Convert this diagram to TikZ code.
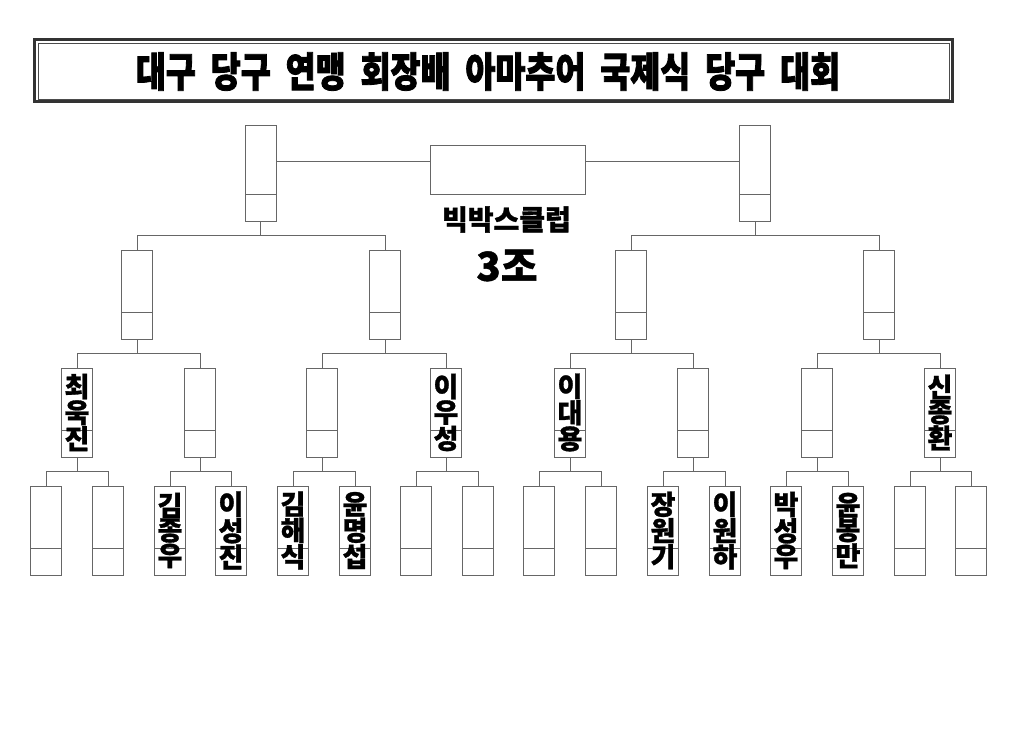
\documentclass[tikz,border=0pt]{standalone}
\usepackage{fontspec}
\usepackage{tikz}
\newfontfamily\krfont{Noto Sans CJK KR}[FakeBold=1.1]
\newfontfamily\titlefont{Noto Sans CJK KR}[FakeStretch=0.795,WordSpace=2.0,FakeBold=2]

\begin{document}
\begin{tikzpicture}[x=1pt,y=-1pt,
  slot/.style={draw=black!60,line width=0.6pt,minimum width=31pt,minimum height=89pt,inner sep=0pt,
    align=center,font=\krfont\bfseries\fontsize{27}{24.5}\selectfont,
    path picture={\draw[black!60,line width=0.6pt]([yshift=27pt]path picture bounding box.south west)--([yshift=27pt]path picture bounding box.south east);}},
  semi/.style={slot,minimum height=96pt},
  link/.style={draw=black!60,line width=0.6pt}]
\useasboundingbox (0,0) rectangle (1024,746);
% title
\draw[black!80][line width=3](34.5,39.5) rectangle (952.5,102);
\draw[black!70][line width=0.8](38,43) rectangle (949,99);
\node (title) at (488,71.5) [inner sep=0][font=\titlefont\bfseries\fontsize{41}{41}\selectfont]{대구 당구 연맹 회장배 아마추어 국제식 당구 대회};
% final
\node (final) at (507.5,169.5) [draw=black!60][line width=0.6pt][minimum width=155pt][minimum height=49pt]{};
\node (club) at (506.5,219.5) [font=\krfont\bfseries\fontsize{28}{28}\selectfont]{빅박스클럽};
\node (group) at (507,265.5) [font=\krfont\bfseries\fontsize{40}{40}\selectfont]{3조};
% semifinal
\node (s1) at (260.5,173) [semi]{};
\node (s2) at (755,173) [semi]{};
% quarterfinal
\node (q1) at (137,294.5) [slot]{};
\node (q2) at (385,294.5) [slot]{};
\node (q3) at (631,294.5) [slot]{};
\node (q4) at (879,294.5) [slot]{};
% round of 8
\node (e1) at (77,412.5) [slot]{최\\욱\\진};
\node (e2) at (200,412.5) [slot]{};
\node (e3) at (322,412.5) [slot]{};
\node (e4) at (446,412.5) [slot]{이\\우\\성};
\node (e5) at (570,412.5) [slot]{이\\대\\용};
\node (e6) at (693,412.5) [slot]{};
\node (e7) at (817,412.5) [slot]{};
\node (e8) at (940,412.5) [slot]{신\\종\\환};
% round of 16
\node (r1) at (46,530.5) [slot]{};
\node (r2) at (108,530.5) [slot]{};
\node (r3) at (170,530.5) [slot]{김\\종\\우};
\node (r4) at (231,530.5) [slot]{이\\성\\진};
\node (r5) at (293,530.5) [slot]{김\\해\\식};
\node (r6) at (355,530.5) [slot]{윤\\명\\섭};
\node (r7) at (416,530.5) [slot]{};
\node (r8) at (478,530.5) [slot]{};
\node (r9) at (539,530.5) [slot]{};
\node (r10) at (601,530.5) [slot]{};
\node (r11) at (663,530.5) [slot]{장\\원\\기};
\node (r12) at (725,530.5) [slot]{이\\원\\하};
\node (r13) at (786,530.5) [slot]{박\\성\\우};
\node (r14) at (848,530.5) [slot]{윤\\봉\\만};
\node (r15) at (910,530.5) [slot]{};
\node (r16) at (971,530.5) [slot]{};
% connectors
\draw [link]([yshift=12pt]s1.east)--([yshift=12pt]s1.east -| final.west);
\draw [link]([yshift=12pt]s2.west)--([yshift=12pt]s2.west -| final.east);
\draw [link](q1.north) |- ([yshift=-13.5pt]s1.south) -| (q2.north);
\draw [link](s1.south)--++(0,13.5);
\draw [link](q3.north) |- ([yshift=-13.5pt]s2.south) -| (q4.north);
\draw [link](s2.south)--++(0,13.5);
\draw [link](e1.north) |- ([yshift=-13.5pt]q1.south) -| (e2.north);
\draw [link](q1.south)--++(0,13.5);
\draw [link](e3.north) |- ([yshift=-13.5pt]q2.south) -| (e4.north);
\draw [link](q2.south)--++(0,13.5);
\draw [link](e5.north) |- ([yshift=-13.5pt]q3.south) -| (e6.north);
\draw [link](q3.south)--++(0,13.5);
\draw [link](e7.north) |- ([yshift=-13.5pt]q4.south) -| (e8.north);
\draw [link](q4.south)--++(0,13.5);
\draw [link](r1.north) |- ([yshift=-14pt]e1.south) -| (r2.north);
\draw [link](e1.south)--++(0,14);
\draw [link](r3.north) |- ([yshift=-14pt]e2.south) -| (r4.north);
\draw [link](e2.south)--++(0,14);
\draw [link](r5.north) |- ([yshift=-14pt]e3.south) -| (r6.north);
\draw [link](e3.south)--++(0,14);
\draw [link](r7.north) |- ([yshift=-14pt]e4.south) -| (r8.north);
\draw [link](e4.south)--++(0,14);
\draw [link](r9.north) |- ([yshift=-14pt]e5.south) -| (r10.north);
\draw [link](e5.south)--++(0,14);
\draw [link](r11.north) |- ([yshift=-14pt]e6.south) -| (r12.north);
\draw [link](e6.south)--++(0,14);
\draw [link](r13.north) |- ([yshift=-14pt]e7.south) -| (r14.north);
\draw [link](e7.south)--++(0,14);
\draw [link](r15.north) |- ([yshift=-14pt]e8.south) -| (r16.north);
\draw [link](e8.south)--++(0,14);
\end{tikzpicture}
\end{document}
